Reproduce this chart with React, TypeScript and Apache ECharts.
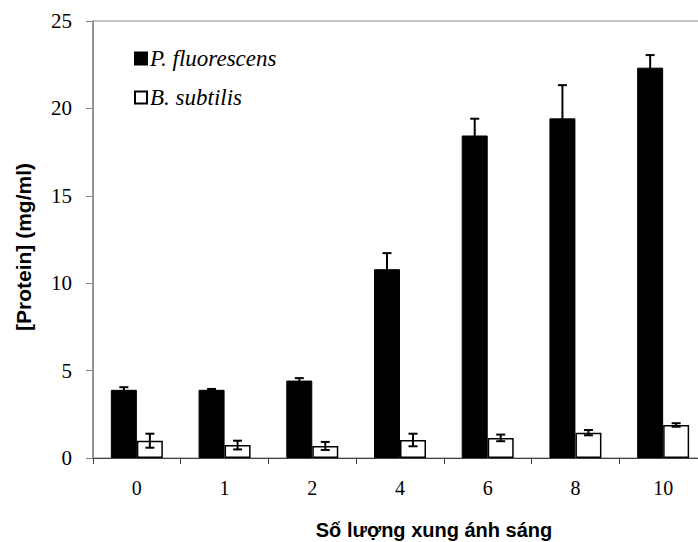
import React, { useEffect, useRef } from "react";
import * as echarts from "echarts";

const categories = ["0", "1", "2", "4", "6", "8", "10"];
const pfValues = [3.9, 3.9, 4.43, 10.8, 18.45, 19.43, 22.33];
const pfErrors = [0.15, 0.05, 0.14, 0.92, 0.96, 1.9, 0.72];
const bsValues = [0.99, 0.74, 0.69, 1.03, 1.15, 1.45, 1.89];
const bsErrors = [0.4, 0.25, 0.23, 0.36, 0.19, 0.15, 0.1];
const yTicks = [0, 5, 10, 15, 20, 25];

const BAR_W = 26;

function errorSeries(values: number[], errors: number[], offset: number) {
  return {
    type: "custom",
    silent: true,
    z: 5,
    data: values.map((v, i) => [i, v, errors[i]]),
    renderItem: (params: any, api: any) => {
      const i = api.value(0);
      const v = api.value(1);
      const e = api.value(2);
      const top = api.coord([i, v + e]);
      const bot = api.coord([i, Math.max(0, v - e)]);
      const x = top[0] + offset;
      const cap = 4.5;
      const style = { stroke: "#000", lineWidth: 2, fill: "none" };
      return {
        type: "group",
        children: [
          { type: "line", shape: { x1: x, y1: top[1], x2: x, y2: bot[1] }, style },
          { type: "line", shape: { x1: x - cap, y1: top[1], x2: x + cap, y2: top[1] }, style },
          { type: "line", shape: { x1: x - cap, y1: bot[1], x2: x + cap, y2: bot[1] }, style },
        ],
      };
    },
  };
}

export default function App() {
  const ref = useRef<HTMLDivElement>(null);
  useEffect(() => {
    if (!ref.current) return;
    const chart = echarts.init(ref.current, null, { renderer: "svg" });
    const serif = "Liberation Serif";
    const sans = "Liberation Sans";
    chart.setOption({
      animation: false,
      backgroundColor: "#fff",
      grid: {
        left: 93,
        top: 21,
        width: 614,
        bottom: 84,
        show: true,
        borderColor: "#868686",
        borderWidth: 1,
        backgroundColor: "transparent",
      },
      legend: {
        orient: "vertical",
        left: 134,
        top: 47,
        padding: 0,
        itemWidth: 12,
        itemHeight: 12,
        itemGap: 16,
        icon: "rect",
        data: ["P. fluorescens", "B. subtilis"],
        textStyle: {
          fontFamily: serif,
          fontStyle: "italic",
          fontSize: 23,
          lineHeight: 22,
          color: "#000",
          padding: [0, 0, 0, -2],
        },
      },
      xAxis: {
        type: "category",
        data: categories,
        axisLine: { show: true, lineStyle: { color: "#404040", width: 1 } },
        axisTick: { show: true, length: 6, lineStyle: { color: "#404040" } },
        axisLabel: { margin: 20, fontFamily: serif, fontSize: 20, color: "#000" },
        splitLine: { show: false },
      },
      yAxis: {
        type: "value",
        min: 0,
        max: 25,
        interval: 5,
        axisLine: { show: true, lineStyle: { color: "#868686", width: 1.5 } },
        axisTick: { show: true, length: 7, lineStyle: { color: "#868686" } },
        axisLabel: {
          margin: 21,
          fontFamily: serif,
          fontSize: 21,
          color: "#000",
          formatter: (v: number) => (yTicks.includes(v) ? String(v) : ""),
        },
        splitLine: { show: false },
      },
      graphic: [
        {
          type: "text",
          x: 434,
          y: 530,
          style: {
            text: "Số lượng xung ánh sáng",
            fontFamily: sans,
            fontWeight: "bold",
            fontSize: 20,
            fill: "#000",
            align: "center",
            verticalAlign: "middle",
          },
        },
        {
          type: "text",
          x: 23,
          y: 247,
          rotation: Math.PI / 2,
          style: {
            text: "[Protein] (mg/ml)",
            fontFamily: sans,
            fontWeight: "bold",
            fontSize: 21,
            fill: "#000",
            align: "center",
            verticalAlign: "middle",
          },
        },
      ],
      series: [
        {
          name: "P. fluorescens",
          type: "bar",
          data: pfValues,
          barWidth: BAR_W,
          barGap: "0%",
          itemStyle: { color: "#000", borderColor: "#000", borderWidth: 1 },
        },
        {
          name: "B. subtilis",
          type: "bar",
          data: bsValues,
          barWidth: BAR_W,
          barGap: "0%",
          itemStyle: { color: "#fff", borderColor: "#000", borderWidth: 1.5 },
        },
        errorSeries(pfValues, pfErrors, -BAR_W / 2),
        errorSeries(bsValues, bsErrors, BAR_W / 2),
      ],
    });
    return () => chart.dispose();
  }, []);
  return (
    <div
      style={{
        position: "fixed",
        left: 0,
        top: 0,
        width: 698,
        height: 542,
        overflow: "hidden",
        background: "#fff",
      }}
    >
      <div ref={ref} style={{ width: 720, height: 542 }} />
    </div>
  );
}
